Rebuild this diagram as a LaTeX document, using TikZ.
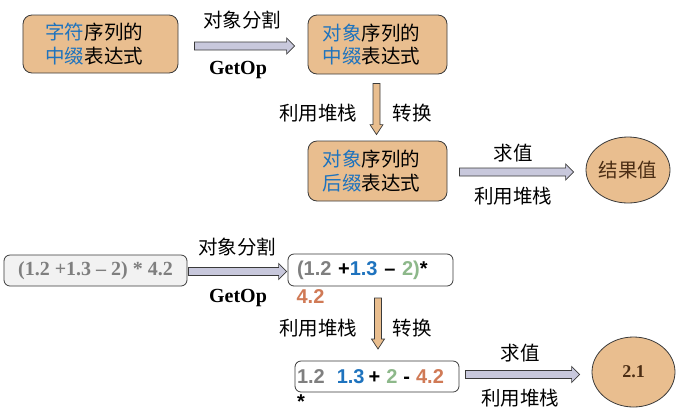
\documentclass[tikz,border=0pt]{standalone}
\usepackage{fontspec}
\setmainfont{Liberation Serif}
\setsansfont{Liberation Sans}
\newfontfamily\cjk{Noto Sans CJK SC}
\usetikzlibrary{calc,shapes.geometric}
\definecolor{tanc}{HTML}{E9BE8F}
\definecolor{lavc}{HTML}{C8C8DC}
\definecolor{edgec}{HTML}{3A3A3A}
\definecolor{cblue}{HTML}{1E73BE}
\definecolor{cgray}{HTML}{7F7F7F}
\definecolor{cgreen}{HTML}{8DB88A}
\definecolor{ccoral}{HTML}{D07A56}
\definecolor{cbrown}{HTML}{4B2D14}
\newcommand\harrow[3]{\draw[#1] ($(#2)+(0,-4)$) -- ($(#3)+(-8,-4)$) -- ($(#3)+(-8,-8)$) -- (#3) -- ($(#3)+(-8,8)$) -- ($(#3)+(-8,4)$) -- ($(#2)+(0,4)$) -- cycle;}
\newcommand\varrow[3]{\draw[#1] ($(#2)+(-3.5,0)$) -- ($(#3)+(-3.5,-10)$) -- ($(#3)+(-6.5,-10)$) -- (#3) -- ($(#3)+(6.5,-10)$) -- ($(#3)+(3.5,-10)$) -- ($(#2)+(3.5,0)$) -- cycle;}
\begin{document}
\begin{tikzpicture}[x=1bp,y=-1bp,
  tanbox/.style={draw=edgec, fill=tanc, line width=0.8bp, rounded corners=9bp, inner sep=0pt,
    font=\cjk\fontsize{19.5bp}{23.5bp}\selectfont, align=left, text width=110bp},
  exprbox/.style={draw=edgec, line width=0.8bp, rounded corners=6bp, inner ysep=0pt,
    font=\sffamily\bfseries\fontsize{20bp}{24bp}\selectfont, align=left},
  oval/.style={ellipse, draw=edgec, fill=tanc, line width=0.8bp, inner sep=0pt},
  lbl/.style={font=\cjk\fontsize{19.5bp}{23.5bp}\selectfont, inner sep=0pt},
  getop/.style={font=\bfseries\fontsize{20bp}{24bp}\selectfont, inner sep=0pt},
  harr/.style={draw=edgec, fill=lavc, line width=0.7bp},
  varr/.style={draw=edgec, fill=tanc, line width=0.7bp}]
\useasboundingbox (0,0) rectangle (688,419);
% ---------- top row ----------
\node[tanbox, minimum width=155bp, minimum height=58bp] (b1) at (100.5,44)
  {{\color{cblue}字符}序列的\\{\color{cblue}中缀}表达式};
\node[tanbox, minimum width=139bp, minimum height=59bp] (b2) at (377.5,44.5)
  {{\color{cblue}对象}序列的\\{\color{cblue}中缀}表达式};
\node[tanbox, minimum width=139bp, minimum height=60bp] (b3) at (377.5,171)
  {{\color{cblue}对象}序列的\\{\color{cblue}后缀}表达式};
\node[oval, minimum width=84bp, minimum height=66bp, font=\cjk\fontsize{19.5bp}{23.5bp}\selectfont, text=cbrown] (e1) at (628,170) {结果值};

\coordinate (a1s) at ($(b1.east)+(16,2)$);
\coordinate (a1e) at ($(a1s -| b2.west)+(-13,0)$);
\harrow{harr}{a1s}{a1e}
\node[lbl] (l1) at (242,20) {对象分割};
\node[getop] (g1) at (238,70) {GetOp};

\coordinate (a2s) at ($(b2.south)+(-1,9)$);
\coordinate (a2e) at ($(b3.north)+(-1,-6)$);
\varrow{varr}{a2s}{a2e}
\node[lbl] (l2) at (318,113) {利用堆栈};
\node[lbl] (l3) at (412,113) {转换};

\coordinate (a3s) at ($(b3.east)+(12,1)$);
\coordinate (a3e) at ($(a3s -| e1.west)+(-12,0)$);
\harrow{harr}{a3s}{a3e}
\node[lbl] (l4) at (513,153) {求值};
\node[lbl] (l5) at (513,196) {利用堆栈};

% ---------- bottom row ----------
\node[exprbox, fill=black!5, minimum width=183bp, minimum height=31bp, inner xsep=0pt,
  font=\bfseries\fontsize{20bp}{24bp}\selectfont, text=cgray, align=center] (c1) at (95.5,270.5)
  {(1.2 +1.3 – 2) * 4.2};
\node[exprbox, fill=white, text width=147bp, inner xsep=9bp, minimum height=32bp] (c2) at (370.5,270)
  {{\color{cgray}(1.2} +{\color{cblue}1.3} – {\color{cgreen}2)}*};
\node[font=\sffamily\bfseries\fontsize{20bp}{24bp}\selectfont, text=ccoral, inner sep=0pt] (c2b) at (310.5,297) {4.2};
\node[exprbox, fill=white, text width=160bp, inner xsep=2bp, minimum height=31bp] (c3) at (377,376.5)
  {{\color{cgray}1.2}\hspace{12bp}{\color{cblue}1.3}\hspace{4bp}+\hspace{6bp}{\color{cgreen}2}\hspace{6bp}-\hspace{6bp}{\color{ccoral}4.2}};
\node[font=\sffamily\bfseries\fontsize{20bp}{24bp}\selectfont, inner sep=0pt] (c3b) at (301,402) {*};
\node[oval, minimum width=83bp, minimum height=70bp, font=\bfseries\fontsize{18bp}{22bp}\selectfont, text=cbrown] (e2) at (633.5,372) {2.1};

\coordinate (a4s) at ($(c1.east)+(1,1)$);
\coordinate (a4e) at ($(a4s -| c2.west)+(-1,0)$);
\harrow{harr}{a4s}{a4e}
\node[lbl] (l6) at (237,247) {对象分割};
\node[getop] (g2) at (238,298) {GetOp};

\coordinate (a5s) at (378,298);
\coordinate (a5e) at (378,349);
\varrow{varr}{a5s}{a5e}
\node[lbl] (l7) at (318,328) {利用堆栈};
\node[lbl] (l8) at (412,328) {转换};

\coordinate (a6s) at ($(c3.east)+(6,-2)$);
\coordinate (a6e) at ($(a6s -| e2.west)+(-12,0)$);
\harrow{harr}{a6s}{a6e}
\node[lbl] (l9) at (520,353) {求值};
\node[lbl] (l10) at (520,398) {利用堆栈};
\end{tikzpicture}
\end{document}
